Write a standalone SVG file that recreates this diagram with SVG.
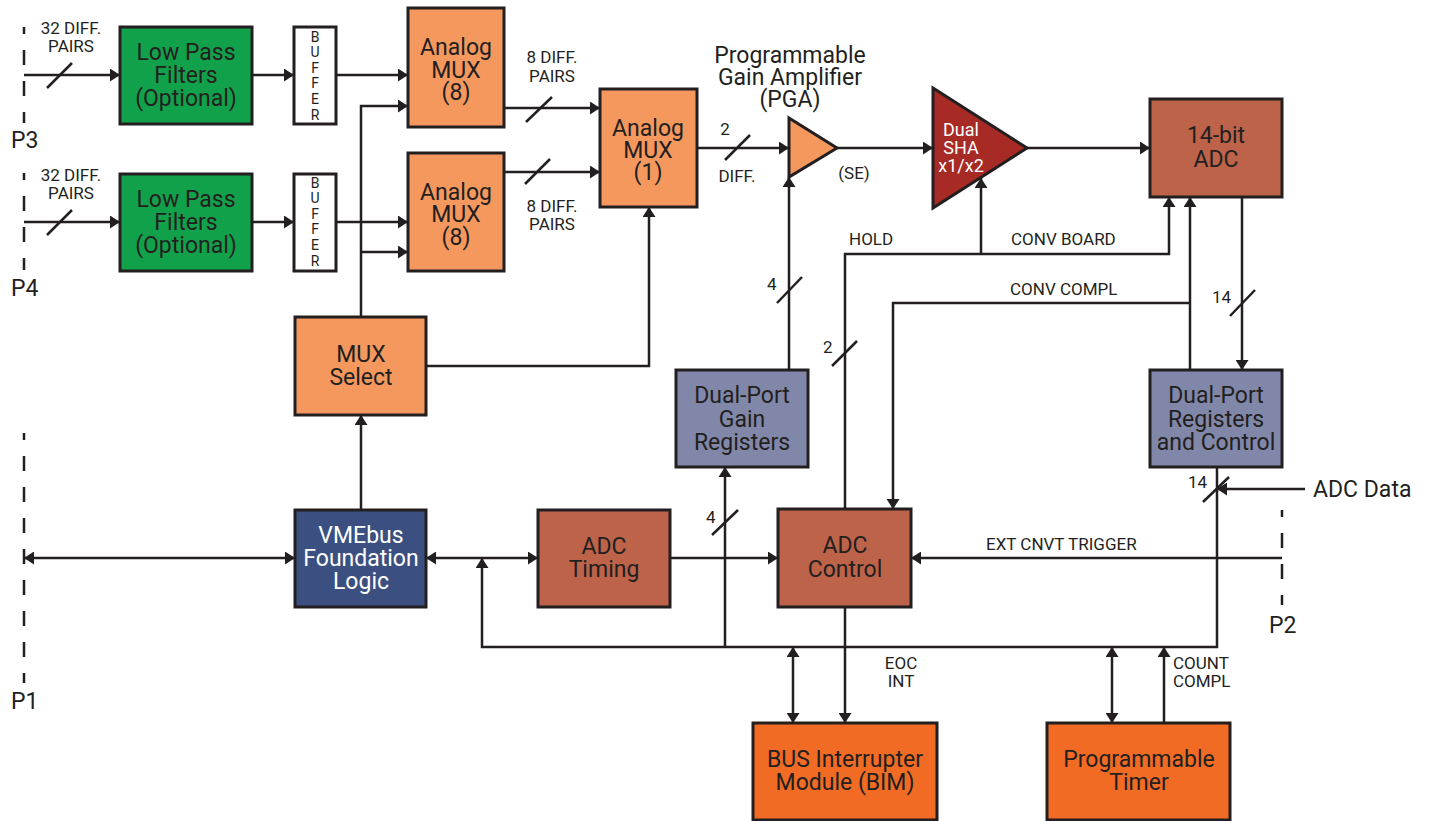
<svg xmlns="http://www.w3.org/2000/svg" width="1431" height="821" viewBox="0 0 1431 821">
<style>
text{font-family:Roboto,"Liberation Sans",sans-serif;fill:#231f20}
.b{font-size:23px;text-anchor:middle}
.w{fill:#ffffff}
.s{font-size:17px}
.m{text-anchor:middle}
.buf{font-size:14px;text-anchor:middle}
.box{stroke:#231f20;stroke-width:3}
.ln{fill:none;stroke:#231f20;stroke-width:2.5}
.sl{stroke:#231f20;stroke-width:2.5}
.dash{stroke:#231f20;stroke-width:2.5;stroke-dasharray:15 16}
.green{fill:#11a14a}
.lor{fill:#f5985e}
.brn{fill:#bc634a}
.sha{fill:#a82a25}
.dp{fill:#8187a9}
.vme{fill:#3b5080}
.or{fill:#f26b24}
</style>
<defs>
<marker id="ah" viewBox="0 0 10 13" refX="10" refY="6.5" markerWidth="10" markerHeight="13" markerUnits="userSpaceOnUse" orient="auto-start-reverse">
<path d="M0,0 L10,6.5 L0,13 z" fill="#231f20"/>
</marker>
</defs>
<rect width="1431" height="821" fill="#ffffff"/>

<g id="ports">
<line class="dash" x1="24" y1="27" x2="24" y2="123" stroke-dashoffset="8"/>
<text x="11" y="148" style="font-size:23px">P3</text>
<line class="dash" x1="24" y1="173" x2="24" y2="270" stroke-dashoffset="8"/>
<text x="11" y="296" style="font-size:23px">P4</text>
<line class="dash" x1="24" y1="433" x2="24" y2="683" stroke-dashoffset="8"/>
<text x="11" y="709" style="font-size:23px">P1</text>
<line class="dash" x1="1282" y1="510" x2="1282" y2="605" stroke-dashoffset="8"/>
<text x="1269" y="633" style="font-size:23px">P2</text>
</g>

<g id="connectors">
<path class="ln" d="M24,75 H120" marker-end="url(#ah)"/>
<path class="ln" d="M252,75 H294" marker-end="url(#ah)"/>
<path class="ln" d="M336,75 H408" marker-end="url(#ah)"/>
<path class="ln" d="M361,317 V106 H408" marker-end="url(#ah)"/>
<path class="ln" d="M361,252 H408" marker-end="url(#ah)"/>
<path class="ln" d="M24,222 H120" marker-end="url(#ah)"/>
<path class="ln" d="M252,222 H294" marker-end="url(#ah)"/>
<path class="ln" d="M336,222 H408" marker-end="url(#ah)"/>
<path class="ln" d="M504,108 H600" marker-end="url(#ah)"/>
<path class="ln" d="M504,172 H600" marker-end="url(#ah)"/>
<path class="ln" d="M697,148 H789" marker-end="url(#ah)"/>
<path class="ln" d="M837,148 H933" marker-end="url(#ah)"/>
<path class="ln" d="M1027,148 H1150" marker-end="url(#ah)"/>
<path class="ln" d="M426,366 H649 V207" marker-end="url(#ah)"/>
<path class="ln" d="M361,510 V415" marker-end="url(#ah)"/>
<path class="ln" d="M24,558 H295" marker-start="url(#ah)" marker-end="url(#ah)"/>
<path class="ln" d="M426,558 H538" marker-start="url(#ah)" marker-end="url(#ah)"/>
<path class="ln" d="M1217,467 V647 H482 V558" marker-end="url(#ah)"/>
<path class="ln" d="M670,558 H778" marker-end="url(#ah)"/>
<path class="ln" d="M725,647 V467" marker-end="url(#ah)"/>
<path class="ln" d="M789,370 V177" marker-end="url(#ah)"/>
<path class="ln" d="M845,509 V254 H1169 V197" marker-end="url(#ah)"/>
<path class="ln" d="M981,254 V178" marker-end="url(#ah)"/>
<path class="ln" d="M1190,370 V197" marker-end="url(#ah)"/>
<path class="ln" d="M1190,303 H893 V509" marker-end="url(#ah)"/>
<path class="ln" d="M1242,197 V370" marker-end="url(#ah)"/>
<path class="ln" d="M1305,489 H1217" marker-end="url(#ah)"/>
<path class="ln" d="M1282,558 H911" marker-end="url(#ah)"/>
<path class="ln" d="M845,607 V723" marker-end="url(#ah)"/>
<path class="ln" d="M793,647 V723" marker-start="url(#ah)" marker-end="url(#ah)"/>
<path class="ln" d="M1112,647 V723" marker-start="url(#ah)" marker-end="url(#ah)"/>
<path class="ln" d="M1164,723 V647" marker-end="url(#ah)"/>
<line class="sl" x1="47" y1="88" x2="72" y2="63"/>
<line class="sl" x1="47" y1="235" x2="72" y2="210"/>
<line class="sl" x1="526" y1="122" x2="552" y2="97"/>
<line class="sl" x1="525" y1="184" x2="550" y2="159"/>
<line class="sl" x1="725" y1="160" x2="750" y2="135"/>
<line class="sl" x1="777" y1="303" x2="802" y2="277"/>
<line class="sl" x1="832" y1="366" x2="857" y2="341"/>
<line class="sl" x1="1230" y1="316" x2="1255" y2="290"/>
<line class="sl" x1="1203" y1="502" x2="1229" y2="477"/>
<line class="sl" x1="712" y1="535" x2="738" y2="510"/>
<text class="s m" x="71" y="34">32 DIFF.</text>
<text class="s m" x="71" y="52">PAIRS</text>
<text class="s m" x="71" y="181">32 DIFF.</text>
<text class="s m" x="71" y="199">PAIRS</text>
<text class="s m" x="552" y="63">8 DIFF.</text>
<text class="s m" x="552" y="82">PAIRS</text>
<text class="s m" x="552" y="212">8 DIFF.</text>
<text class="s m" x="552" y="230">PAIRS</text>
<text class="s m" x="725" y="135">2</text>
<text class="s m" x="737" y="182">DIFF.</text>
<text class="s m" x="854" y="179">(SE)</text>
<text class="s" x="849" y="245">HOLD</text>
<text class="s" x="1011" y="245">CONV BOARD</text>
<text class="s" x="1010" y="295">CONV COMPL</text>
<text class="s" x="767" y="290">4</text>
<text class="s" x="823" y="353">2</text>
<text class="s" x="1212" y="303">14</text>
<text class="s" x="1188" y="488">14</text>
<text class="s" x="706" y="523">4</text>
<text class="s" x="986" y="550">EXT CNVT TRIGGER</text>
<text class="s m" x="901" y="669">EOC</text>
<text class="s m" x="901" y="687">INT</text>
<text class="s" x="1173" y="669">COUNT</text>
<text class="s" x="1173" y="687">COMPL</text>
<text x="1313" y="497" style="font-size:23px">ADC Data</text>
</g>

<g id="lpf1">
<rect class="box green" x="120" y="27" width="132" height="97"/>
<text class="b" x="186" y="60">Low Pass</text>
<text class="b" x="186" y="83">Filters</text>
<text class="b" x="186" y="106">(Optional)</text>
</g>
<g id="lpf2">
<rect class="box green" x="120" y="174" width="132" height="97"/>
<text class="b" x="186" y="207">Low Pass</text>
<text class="b" x="186" y="230">Filters</text>
<text class="b" x="186" y="253">(Optional)</text>
</g>
<g id="buffer1">
<rect class="box" fill="#ffffff" x="294" y="27" width="42" height="97"/>
<text class="buf" x="315" y="42">B</text>
<text class="buf" x="315" y="57">U</text>
<text class="buf" x="315" y="73">F</text>
<text class="buf" x="315" y="88">F</text>
<text class="buf" x="315" y="104">E</text>
<text class="buf" x="315" y="120">R</text>
</g>
<g id="buffer2">
<rect class="box" fill="#ffffff" x="294" y="174" width="42" height="97"/>
<text class="buf" x="315" y="188">B</text>
<text class="buf" x="315" y="203">U</text>
<text class="buf" x="315" y="219">F</text>
<text class="buf" x="315" y="234">F</text>
<text class="buf" x="315" y="250">E</text>
<text class="buf" x="315" y="266">R</text>
</g>
<g id="mux8a">
<rect class="box lor" x="408" y="8" width="96" height="119"/>
<text class="b" x="456" y="55">Analog</text>
<text class="b" x="456" y="78">MUX</text>
<text class="b" x="456" y="100">(8)</text>
</g>
<g id="mux8b">
<rect class="box lor" x="408" y="153" width="96" height="118"/>
<text class="b" x="456" y="200">Analog</text>
<text class="b" x="456" y="222">MUX</text>
<text class="b" x="456" y="245">(8)</text>
</g>
<g id="mux1">
<rect class="box lor" x="600" y="89" width="97" height="118"/>
<text class="b" x="648" y="136">Analog</text>
<text class="b" x="648" y="158">MUX</text>
<text class="b" x="648" y="180">(1)</text>
</g>
<g id="pga">
<polygon class="box lor" points="789,118 837,148 789,177"/>
<text class="b" x="790" y="63">Programmable</text>
<text class="b" x="790" y="85">Gain Amplifier</text>
<text class="b" x="790" y="107">(PGA)</text>
</g>
<g id="sha">
<polygon class="box sha" points="933,88 1027,148 933,208"/>
<text class="w m" x="961" y="136" style="font-size:18px">Dual</text>
<text class="w m" x="961" y="154" style="font-size:18px">SHA</text>
<text class="w m" x="961" y="172" style="font-size:18px">x1/x2</text>
</g>
<g id="adc">
<rect class="box brn" x="1150" y="99" width="132" height="98"/>
<text class="b" x="1216" y="143">14-bit</text>
<text class="b" x="1216" y="167">ADC</text>
</g>
<g id="muxsel">
<rect class="box lor" x="295" y="317" width="131" height="98"/>
<text class="b" x="361" y="362">MUX</text>
<text class="b" x="361" y="385">Select</text>
</g>
<g id="gainreg">
<rect class="box dp" x="676" y="370" width="132" height="97"/>
<text class="b" x="742" y="403">Dual-Port</text>
<text class="b" x="742" y="427">Gain</text>
<text class="b" x="742" y="450">Registers</text>
</g>
<g id="dpreg">
<rect class="box dp" x="1150" y="370" width="132" height="97"/>
<text class="b" x="1216" y="403">Dual-Port</text>
<text class="b" x="1216" y="427">Registers</text>
<text class="b" x="1216" y="450">and Control</text>
</g>
<g id="vme">
<rect class="box vme" x="295" y="510" width="131" height="97"/>
<text class="b w" x="361" y="543">VMEbus</text>
<text class="b w" x="361" y="566">Foundation</text>
<text class="b w" x="361" y="589">Logic</text>
</g>
<g id="adctiming">
<rect class="box brn" x="538" y="510" width="132" height="97"/>
<text class="b" x="604" y="554">ADC</text>
<text class="b" x="604" y="577">Timing</text>
</g>
<g id="adccontrol">
<rect class="box brn" x="778" y="509" width="133" height="98"/>
<text class="b" x="845" y="553">ADC</text>
<text class="b" x="845" y="577">Control</text>
</g>
<g id="bim">
<rect class="box or" x="753" y="723" width="184" height="97"/>
<text class="b" x="845" y="767">BUS Interrupter</text>
<text class="b" x="845" y="790">Module (BIM)</text>
</g>
<g id="timer">
<rect class="box or" x="1047" y="723" width="183" height="97"/>
<text class="b" x="1139" y="767">Programmable</text>
<text class="b" x="1139" y="790">Timer</text>
</g>
</svg>
